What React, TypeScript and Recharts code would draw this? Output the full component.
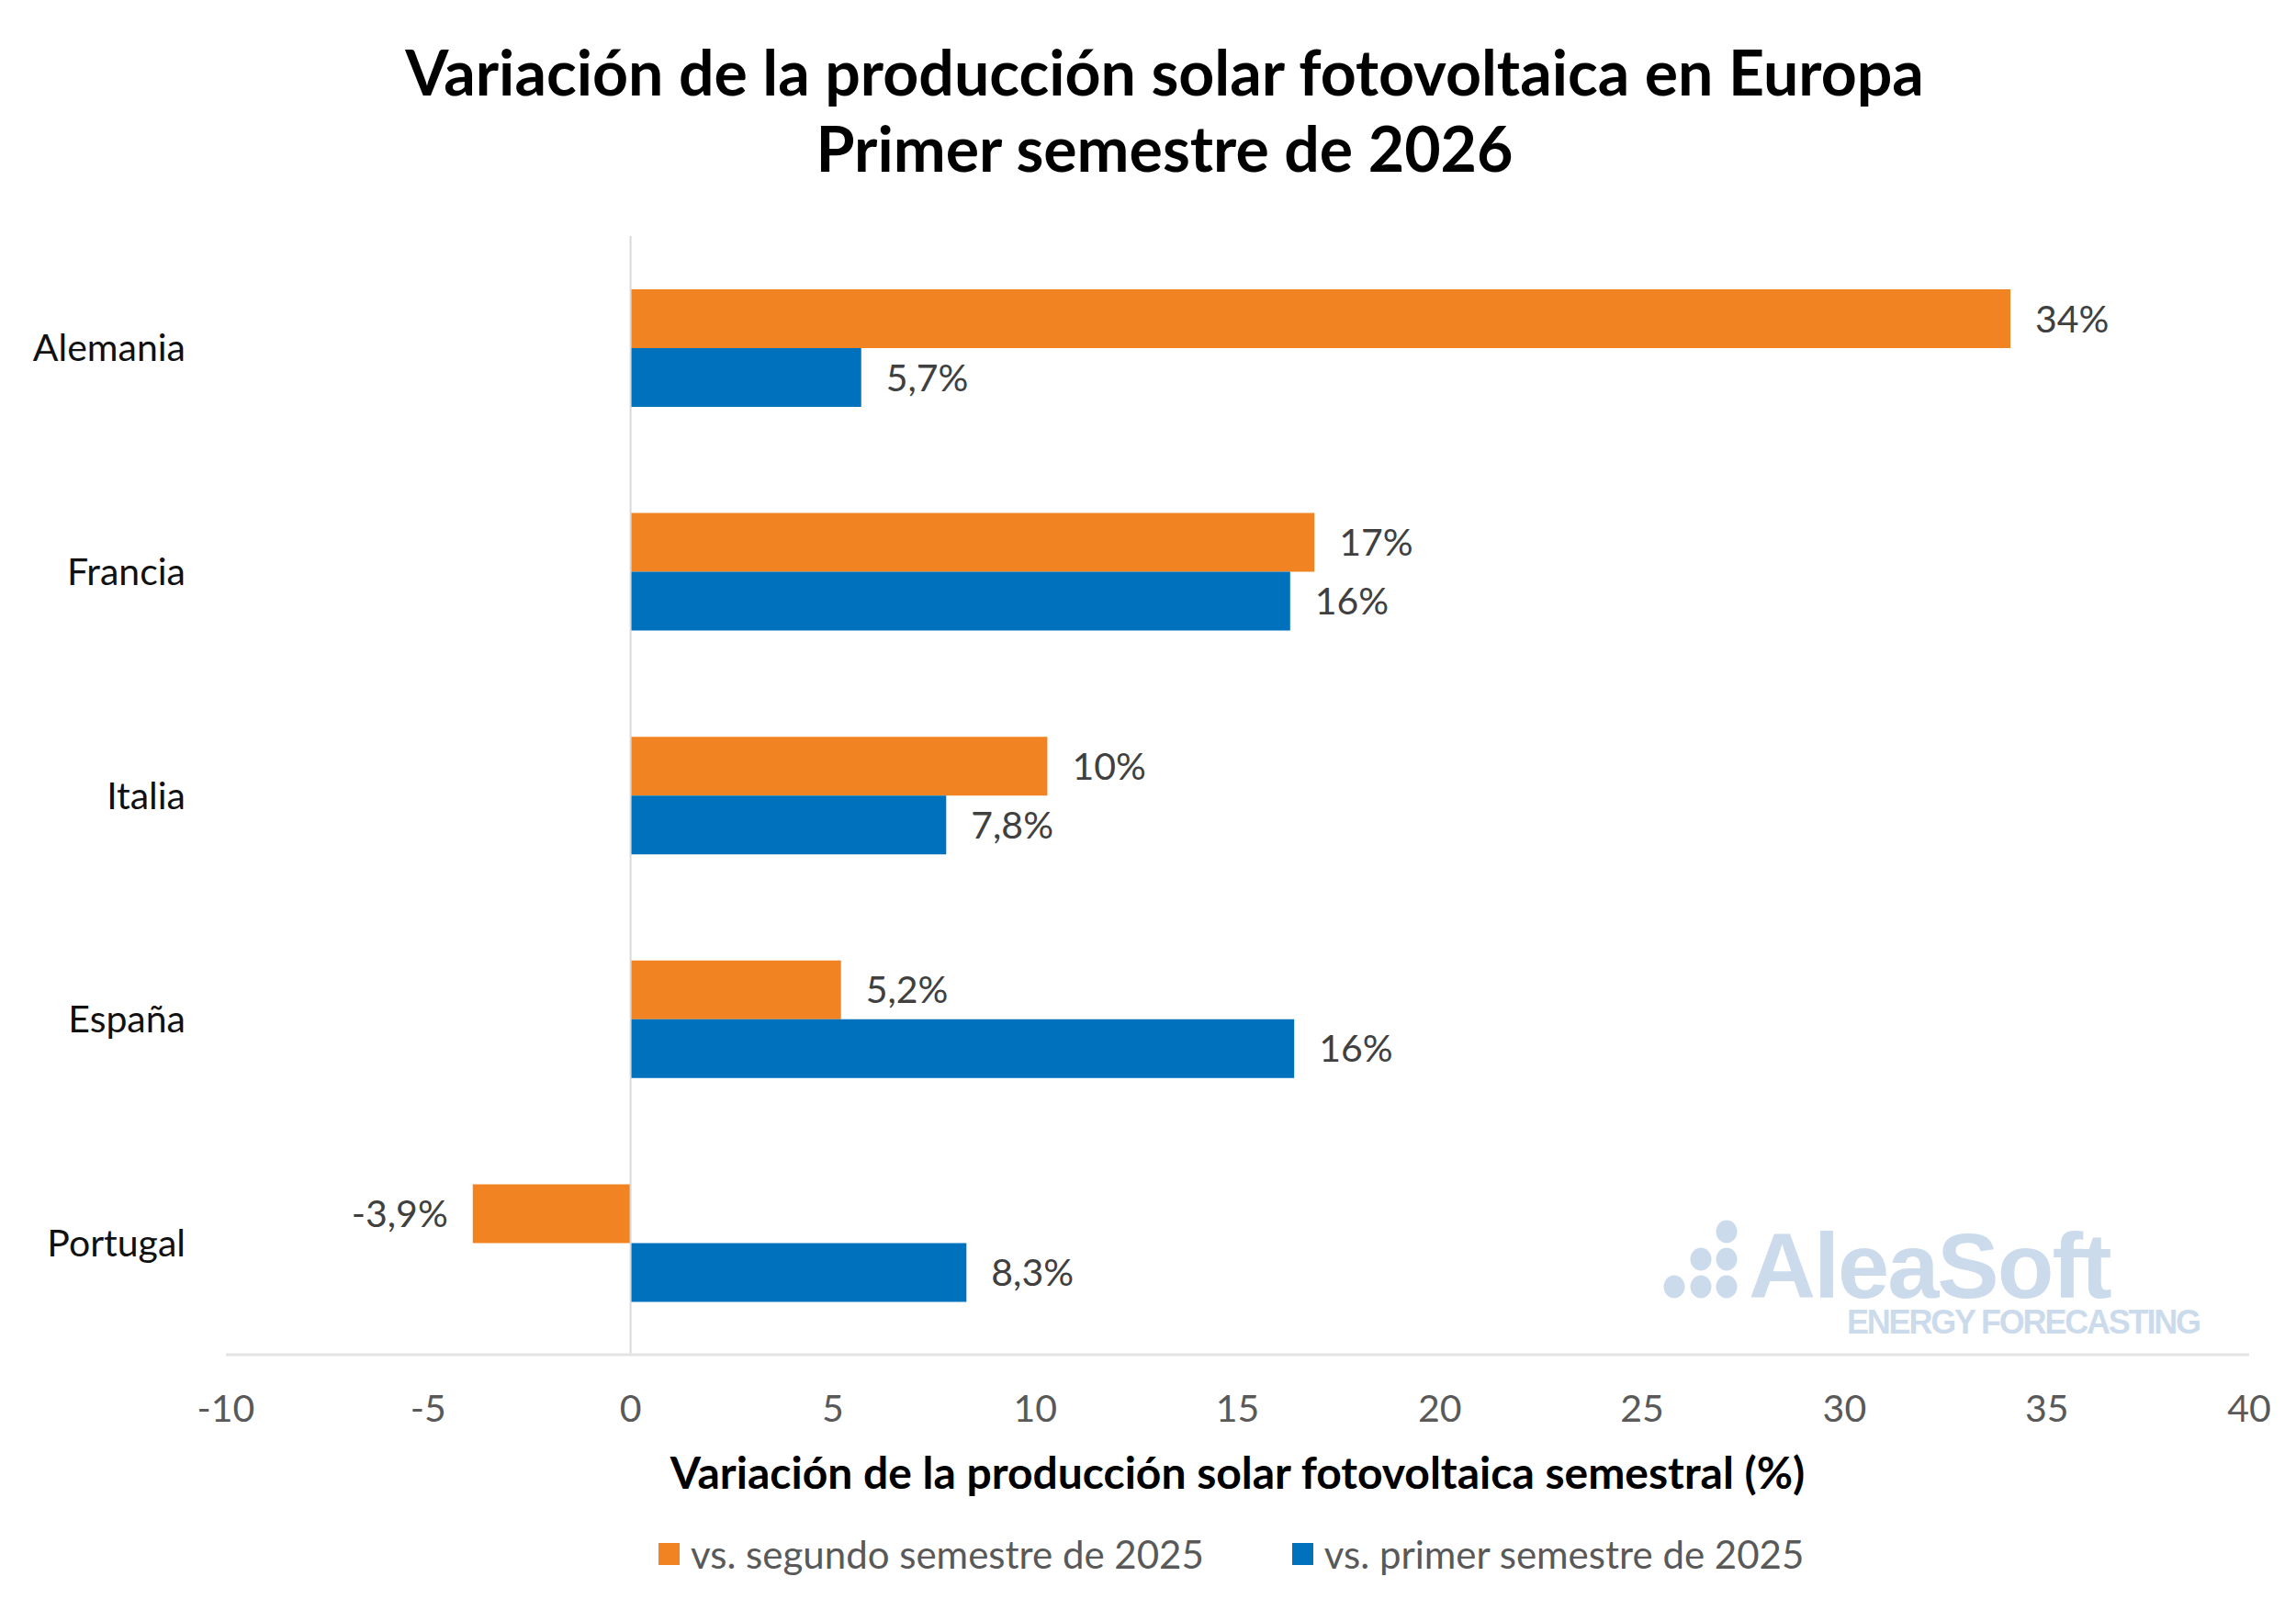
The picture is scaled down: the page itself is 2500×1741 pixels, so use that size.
import React from 'react'
import {
  BarChart,
  Bar,
  XAxis,
  YAxis,
  ReferenceLine,
  LabelList,
} from 'recharts'

const countries = ['Alemania', 'Francia', 'Italia', 'España', 'Portugal']
const vsSecondHalf2025 = [34.1, 16.9, 10.3, 5.2, -3.9]
const vsFirstHalf2025 = [5.7, 16.3, 7.8, 16.4, 8.3]
const xTicks = [-10, -5, 0, 5, 10, 15, 20, 25, 30, 35, 40]

const seriesNames = ['vs. segundo semestre de 2025', 'vs. primer semestre de 2025']
const seriesColors = ['#F28322', '#0071BC']

const data = countries.map((name, i) => ({
  name,
  s2: vsSecondHalf2025[i],
  s1: vsFirstHalf2025[i],
}))

const FONT = 'Lato, "Open Sans", sans-serif'

const fmt = (v: any) => {
  const n = Number(v)
  if (Math.abs(n) >= 10) return `${Math.round(n)}%`
  return `${n.toFixed(1).replace('.', ',')}%`
}

function Watermark() {
  const c = '#CCDBEC'
  const dots = [
    [80, 21], [52, 51], [80, 51], [23, 81], [52, 81], [80, 81],
  ]
  return (
    <svg
      width={620}
      height={150}
      style={{ position: 'absolute', left: 1800, top: 1320, pointerEvents: 'none' }}
    >
      {dots.map(([cx, cy], i) => (
        <ellipse key={i} cx={cx} cy={cy} rx={11.5} ry={12.5} fill={c} />
      ))}
      <text
        x={104}
        y={93}
        fill={c}
        fontFamily='"Liberation Sans", Arial, sans-serif'
        fontWeight={700}
        fontSize={101}
        letterSpacing={-2}
      >
        AleaSoft
      </text>
      <text
        x={211}
        y={132}
        fill={c}
        fontFamily='"Liberation Sans", Arial, sans-serif'
        fontWeight={700}
        fontSize={36}
        letterSpacing={-2.2}
      >
        ENERGY FORECASTING
      </text>
    </svg>
  )
}

export default function App() {
  return (
    <div
      style={{
        position: 'absolute',
        left: 0,
        top: 0,
        width: 2500,
        height: 1741,
        background: '#fff',
        fontFamily: FONT,
      }}
    >
      <div
        style={{
          position: 'absolute',
          left: 18,
          top: 36,
          width: 2500,
          textAlign: 'center',
          fontSize: 68,
          fontWeight: 700,
          lineHeight: '83px',
          color: '#000',
        }}
      >
        Variación de la producción solar fotovoltaica en Europa
        <br />
        Primer semestre de 2026
      </div>

      <BarChart
        width={2500}
        height={1741}
        layout="vertical"
        data={data}
        margin={{ top: 257, right: 51, left: 20, bottom: 206 }}
        barSize={64}
        barGap={0}
      >
        <XAxis
          type="number"
          domain={[-10, 40]}
          ticks={xTicks}
          interval={0}
          height={60}
          axisLine={{ stroke: '#E3E3E3', strokeWidth: 3 }}
          tickLine={false}
          tickSize={6}
          tickMargin={38}
          tick={{ fill: '#595959', fontSize: 41, fontFamily: FONT }}
        />
        <YAxis
          type="category"
          dataKey="name"
          width={226}
          axisLine={false}
          tickLine={false}
          tickSize={6}
          tickMargin={38}
          tick={{ fill: '#111', fontSize: 41, fontFamily: FONT }}
        />
        <ReferenceLine x={0} stroke="#D9D9D9" strokeWidth={2} />
        <Bar dataKey="s2" fill={seriesColors[0]} isAnimationActive={false}>
          <LabelList
            dataKey="s2"
            position="right"
            offset={27}
            formatter={fmt}
            style={{ fill: '#404040', fontSize: 41, fontFamily: FONT }}
          />
        </Bar>
        <Bar dataKey="s1" fill={seriesColors[1]} isAnimationActive={false}>
          <LabelList
            dataKey="s1"
            position="right"
            offset={27}
            formatter={fmt}
            style={{ fill: '#404040', fontSize: 41, fontFamily: FONT }}
          />
        </Bar>
      </BarChart>

      <div
        style={{
          position: 'absolute',
          left: 246,
          width: 2203,
          top: 1574,
          textAlign: 'center',
          fontSize: 48,
          fontWeight: 700,
          color: '#000',
        }}
      >
        Variación de la producción solar fotovoltaica semestral (%)
      </div>

      <div
        style={{
          position: 'absolute',
          left: 717,
          top: 1667,
          display: 'flex',
          alignItems: 'center',
          fontSize: 42,
          color: '#595959',
        }}
      >
        {seriesNames.map((n, i) => (
          <div key={n} style={{ display: 'flex', alignItems: 'center', marginRight: i === 0 ? 96 : 0 }}>
            <div style={{ width: 23, height: 24, background: seriesColors[i], marginRight: 12 }} />
            <span>{n}</span>
          </div>
        ))}
      </div>

      <Watermark />
    </div>
  )
}
